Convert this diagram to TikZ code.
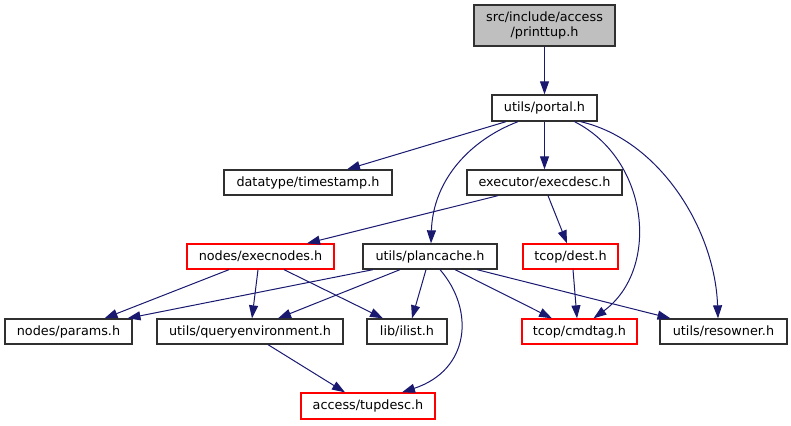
\documentclass[tikz,border=0pt]{standalone}
\usepackage{fontspec}
\setmainfont{DejaVu Sans}
\usetikzlibrary{arrows.meta}
\definecolor{edgeblue}{HTML}{191970}
\definecolor{rootfill}{HTML}{BFBFBF}
\definecolor{boxline}{HTML}{303030}
\begin{document}
\begin{tikzpicture}[x=1pt,y=-1pt,
  box/.style={draw=boxline, line width=1.3pt, fill=white, inner sep=0pt,
    minimum height=25pt, font=\fontsize{12.8}{15}\selectfont, align=center},
  redbox/.style={box, draw=red},
  root/.style={box, fill=rootfill},
  edge/.style={draw=edgeblue, line width=1pt, -{Triangle[length=13pt,width=9pt]}}]
\useasboundingbox (0,0) rectangle (791,425);
\node[root, minimum width=141pt, minimum height=41pt] (printtup) at (544.5,25.5) {src/include/access\\/printtup.h};
\node[box, minimum width=105pt, minimum height=26pt] (portal) at (544.5,108) {utils/portal.h};
\node[box, minimum width=168pt] (timestamp) at (308,182.5) {datatype/timestamp.h};
\node[box, minimum width=155pt] (execdesc) at (544.5,182.5) {executor/execdesc.h};
\node[redbox, minimum width=147pt] (execnodes) at (260.5,256.5) {nodes/execnodes.h};
\node[box, minimum width=134pt] (plancache) at (430,256.5) {utils/plancache.h};
\node[redbox, minimum width=95pt] (dest) at (570.5,256.5) {tcop/dest.h};
\node[box, minimum width=127pt] (params) at (68.5,331.5) {nodes/params.h};
\node[box, minimum width=186pt] (queryenv) at (250,331.5) {utils/queryenvironment.h};
\node[box, minimum width=80pt] (ilist) at (407,331.5) {lib/ilist.h};
\node[redbox, minimum width=115pt] (cmdtag) at (579.5,331.5) {tcop/cmdtag.h};
\node[box, minimum width=127pt] (resowner) at (723.5,331.5) {utils/resowner.h};
\node[redbox, minimum width=134pt, minimum height=26pt] (tupdesc) at (368,406) {access/tupdesc.h};

\draw[edge] (printtup.south) -- (portal.north);
\draw[edge] ([xshift=-38.5pt]portal.south) -- ([xshift=39pt]timestamp.north);
\draw[edge] (portal.south) -- (execdesc.north);
\draw[edge] ([xshift=-26.5pt]portal.south) .. controls (470,140) and (433,180) .. ([xshift=1pt]plancache.north);
\draw[edge] ([xshift=30pt]portal.south) .. controls (650,160) and (660,270) .. ([xshift=14pt]cmdtag.north);
\draw[edge] ([xshift=36pt]portal.south) .. controls (660,140) and (715,230) .. ([xshift=-5.5pt]resowner.north);
\draw[edge] ([xshift=-46.5pt]execdesc.south) -- ([xshift=46.5pt]execnodes.north);
\draw[edge] ([xshift=3.5pt]execdesc.south) -- ([xshift=-3.5pt]dest.north);
\draw[edge] ([xshift=-31.5pt]execnodes.south) -- ([xshift=36pt]params.north);
\draw[edge] ([xshift=-2.5pt]execnodes.south) -- ([xshift=2pt]queryenv.north);
\draw[edge] ([xshift=23.5pt]execnodes.south) -- ([xshift=-24pt]ilist.north);
\draw[edge] ([xshift=-57pt]plancache.south) -- ([xshift=59pt]params.north);
\draw[edge] ([xshift=-30pt]plancache.south) -- ([xshift=28pt]queryenv.north);
\draw[edge] ([xshift=-4pt]plancache.south) -- ([xshift=5pt]ilist.north);
\draw[edge] ([xshift=10pt]plancache.south) .. controls (475,310) and (470,370) .. ([xshift=34pt]tupdesc.north);
\draw[edge] ([xshift=25pt]plancache.south) -- ([xshift=-27.5pt]cmdtag.north);
\draw[edge] ([xshift=47pt]plancache.south) -- ([xshift=-53pt]resowner.north);
\draw[edge] ([xshift=2.5pt]dest.south) -- ([xshift=-2.5pt]cmdtag.north);
\draw[edge] ([xshift=18pt]queryenv.south) -- ([xshift=-23pt]tupdesc.north);
\end{tikzpicture}
\end{document}
